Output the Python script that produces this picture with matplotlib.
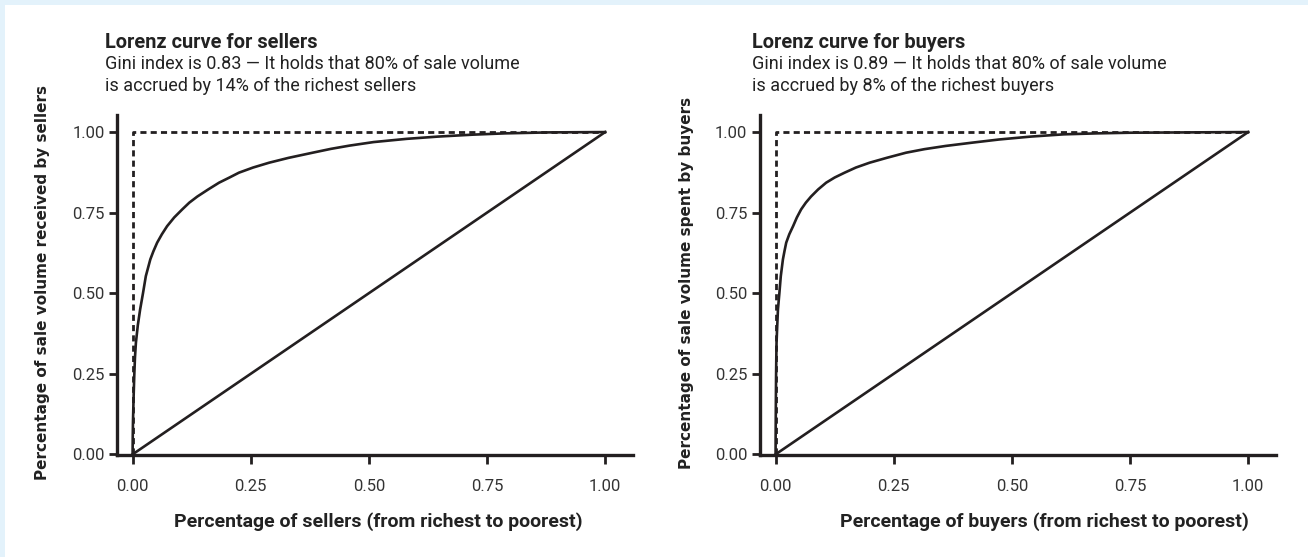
import matplotlib
matplotlib.use("Agg")
import matplotlib.pyplot as plt
from matplotlib.patches import Rectangle

# ---- data ----
sellers_x = [0, 0.0003, 0.0008, 0.002, 0.0035, 0.005, 0.007, 0.011, 0.016, 0.022,
             0.028, 0.0375, 0.044, 0.052, 0.062, 0.073, 0.088, 0.105, 0.12, 0.137,
             0.16, 0.183, 0.205, 0.225, 0.255, 0.289, 0.33, 0.381, 0.42, 0.459,
             0.51, 0.58, 0.646, 0.72, 0.788, 0.88, 1.0]
sellers_y = [0, 0.05, 0.10, 0.17, 0.243, 0.30, 0.346, 0.40, 0.45, 0.50,
             0.553, 0.605, 0.63, 0.657, 0.683, 0.708, 0.735, 0.76, 0.781, 0.80,
             0.822, 0.843, 0.859, 0.874, 0.89, 0.905, 0.92, 0.936, 0.948, 0.958,
             0.969, 0.979, 0.986, 0.992, 0.996, 0.999, 1.0]

buyers_x = [0, 0.0001, 0.0003, 0.0006, 0.001, 0.0015, 0.002, 0.0035, 0.005, 0.008,
            0.011, 0.0155, 0.019, 0.0225, 0.029, 0.037, 0.045, 0.054, 0.064, 0.075,
            0.09, 0.107, 0.125, 0.146, 0.17, 0.199, 0.235, 0.276, 0.315, 0.36,
            0.415, 0.473, 0.54, 0.61, 0.68, 0.75, 0.87, 1.0]
buyers_y = [0, 0.05, 0.10, 0.17, 0.243, 0.30, 0.346, 0.40, 0.45, 0.50,
            0.553, 0.605, 0.632, 0.657, 0.683, 0.708, 0.735, 0.76, 0.781, 0.80,
            0.822, 0.843, 0.859, 0.874, 0.89, 0.905, 0.92, 0.936, 0.947, 0.957,
            0.967, 0.977, 0.986, 0.993, 0.996, 0.998, 0.999, 1.0]

equality_x = [0, 1]
equality_y = [0, 1]
perfect_x = [0, 0, 1]
perfect_y = [0, 1, 1]

tick_values = [0.0, 0.25, 0.5, 0.75, 1.0]
tick_labels = ["0.00", "0.25", "0.50", "0.75", "1.00"]

titles = ["Lorenz curve for sellers", "Lorenz curve for buyers"]
subtitles = [
    ["Gini index is 0.83 \u2014 It holds that 80% of sale volume",
     "is accrued by 14% of the richest sellers"],
    ["Gini index is 0.89 \u2014 It holds that 80% of sale volume",
     "is accrued by 8% of the richest buyers"],
]
xlabels = ["Percentage of sellers (from richest to poorest)",
           "Percentage of buyers (from richest to poorest)"]
ylabels = ["Percentage of sale volume received by sellers",
           "Percentage of sale volume spent by buyers"]

# ---- styling ----
W, H = 1308, 557
DPI = 100
INK = "#231f20"
TXT = "#222222"
BG = "#e3f2fb"

fig = plt.figure(figsize=(W / DPI, H / DPI), dpi=DPI, facecolor=BG)
fig.patches.append(Rectangle((5 / W, 0), 1, (H - 5) / H, transform=fig.transFigure,
                             facecolor="white", edgecolor="none", zorder=-10))

def px(x, y):
    return x / W, 1 - y / H

axes_left_px = [117, 760]
title_x_px = [105, 752]
ylabel_x_px = [43, 686]
xlabel_x_px = [378, 1044]
ax_w_px = 516
ax_top_px, ax_bot_px = 115, 455

curves = [(sellers_x, sellers_y), (buyers_x, buyers_y)]

for i in range(2):
    l = axes_left_px[i]
    ax = fig.add_axes([l / W, (H - ax_bot_px) / H, ax_w_px / W, (ax_bot_px - ax_top_px) / H])
    ax.set_facecolor("none")
    cx, cy = curves[i]
    ax.plot(perfect_x, perfect_y, color=INK, lw=2.0, ls=(0, (2.2, 1.5)),
            solid_capstyle="butt", clip_on=False)
    ax.plot(equality_x, equality_y, color=INK, lw=1.9, clip_on=False)
    ax.plot(cx, cy, color=INK, lw=1.9, clip_on=False, solid_joinstyle="round")

    ax.set_xlim(-0.033, 1.059)
    ax.set_ylim(-0.002, 1.053)
    for s in ["top", "right"]:
        ax.spines[s].set_visible(False)
    for s in ["left", "bottom"]:
        ax.spines[s].set_linewidth(2.4)
        ax.spines[s].set_color(INK)
    ax.set_xticks(tick_values)
    ax.set_xticklabels(tick_labels)
    ax.set_yticks(tick_values)
    ax.set_yticklabels(tick_labels)
    ax.tick_params(axis="x", length=6.5, width=2.0, color=INK, pad=11,
                   labelsize=12, labelcolor="#333333")
    ax.tick_params(axis="y", length=6, width=2.0, color=INK, pad=3,
                   labelsize=12, labelcolor="#333333")
    for lab in ax.get_xticklabels() + ax.get_yticklabels():
        lab.set_fontfamily("Roboto")

    tx, ty = px(title_x_px[i], 42)
    fig.text(tx, ty, titles[i], fontfamily="Roboto", fontweight="bold", fontsize=14.4,
             color=TXT, ha="left", va="center")
    for j, line in enumerate(subtitles[i]):
        sx, sy = px(title_x_px[i], 64 + 22 * j)
        fig.text(sx, sy, line, fontfamily="Roboto", fontsize=13, color=TXT,
                 ha="left", va="center")

    yx, yy = px(ylabel_x_px[i], 283)
    fig.text(yx, yy, ylabels[i], fontfamily="DejaVu Sans", fontweight="bold", fontsize=11,
             color=TXT, rotation=90, ha="center", va="center")
    xx, xy = px(xlabel_x_px[i], 522)
    fig.text(xx, xy, xlabels[i], fontfamily="Roboto", fontweight="bold", fontsize=14,
             color=TXT, ha="center", va="center")

fig.savefig("out.png", dpi=DPI, facecolor=BG)
